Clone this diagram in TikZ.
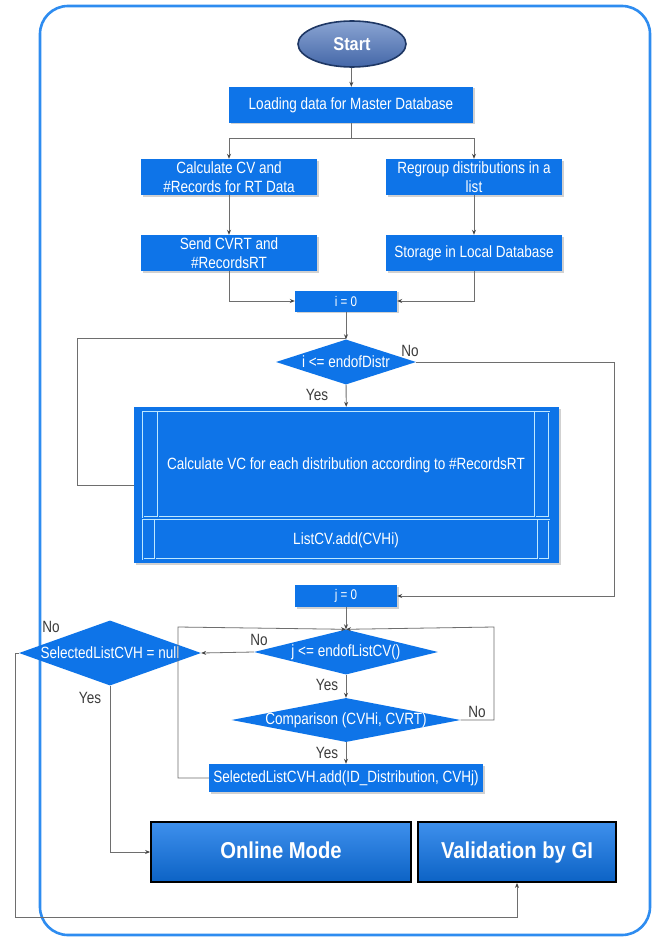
\documentclass[tikz,border=0pt]{standalone}
\usepackage{fontspec}
\setmainfont{Liberation Sans}
\newfontfamily\boxfont{Liberation Sans}[FakeStretch=0.83]
\newfontfamily\btnfont{Liberation Sans}[FakeStretch=0.88]
\usetikzlibrary{shapes.geometric,arrows.meta,calc,shadows}
\definecolor{boxblue}{RGB}{14,116,232}
\definecolor{framebl}{RGB}{46,140,240}
\definecolor{wire}{RGB}{110,110,110}
\definecolor{tipcol}{RGB}{70,70,70}
\definecolor{lbltext}{RGB}{60,60,60}
\definecolor{subwhite}{RGB}{190,232,255}
\definecolor{starttop}{RGB}{138,164,210}
\definecolor{startbot}{RGB}{68,103,168}
\definecolor{startrim}{RGB}{30,55,100}
\tikzset{
  txtfont/.style={font=\boxfont\fontsize{16.3}{18.5}\selectfont},
  box/.style={draw=none, fill=boxblue, text=white, inner sep=1pt, align=center, txtfont,
    drop shadow={shadow xshift=1.5pt, shadow yshift=-1.5pt, opacity=0.18, fill=black}},
  decision/.style={diamond, fill=boxblue, text=white, inner sep=0pt, txtfont},
  bigbtn/.style={draw=black, line width=1.8pt, top color=boxblue!80!white, bottom color=boxblue!85!black,
    text=white, font=\btnfont\bfseries\fontsize{23}{25}\selectfont, text height=16pt, text depth=3pt},
  startnode/.style={ellipse, draw=startrim, line width=1.6pt, top color=starttop,
    bottom color=startbot, text=white, font=\btnfont\bfseries\fontsize{18.5}{20}\selectfont,
    minimum width=108pt, minimum height=46pt, inner sep=0pt},
  conn/.style={draw=wire, line width=0.8pt, -{Stealth[length=5pt,width=4pt,color=tipcol]}},
  wireonly/.style={draw=wire, line width=0.8pt},
  lbl/.style={text=lbltext, inner sep=0pt, txtfont},
  subline/.style={draw=subwhite, line width=0.7pt, double=boxblue, double distance=0.6pt},
  framebox/.style={draw=framebl, line width=2.6pt, rounded corners=28pt}
}
\begin{document}
\begin{tikzpicture}[x=1pt,y=-1pt]
\useasboundingbox (0,0) rectangle (656,939);
\fill[white] (0,0) rectangle (656,939);

% outer frame
\draw[framebox] (40,6) rectangle (650,935);

% top part
\node[startnode] (start) at (352,44) {Start};
\node[box, minimum width=244pt, minimum height=36pt] (load) at (351,105) {Loading data for Master Database};
\node[box, minimum width=176pt, minimum height=36pt] (calc) at (229,177) {Calculate CV and\\\#Records for RT Data};
\node[box, minimum width=176pt, minimum height=36pt] (regroup) at (474,177) {Regroup distributions in a\\list};
\node[box, minimum width=176pt, minimum height=36pt] (send) at (229,253) {Send CVRT and\\\#RecordsRT};
\node[box, minimum width=176pt, minimum height=36pt] (storage) at (474,253) {Storage in Local Database};
\node[box, minimum width=102pt, minimum height=21pt, font=\boxfont\fontsize{14}{15}\selectfont] (i0) at (346,301) {i = 0};

% first loop
\node[decision, minimum width=140pt, minimum height=45pt] (d1) at (346,362) {\makebox[0pt]{i <= endofDistr}};
\node[box, minimum width=425pt, minimum height=156pt] (big) at (346.5,485) {};
\draw[subline] (143,412) rectangle (549,517);
\draw[subline] (158,412) -- (158,517);
\draw[subline] (535,412) -- (535,517);
\draw[subline] (143,520) rectangle (549,559);
\draw[subline] (155,520) -- (155,559);
\draw[subline] (538,520) -- (538,559);
\node[lbl, text=white] (calcvc) at (346,465) {Calculate VC for each distribution according to \#RecordsRT};
\node[lbl, text=white] (listcv) at (346,540) {ListCV.add(CVHi)};

\node[box, minimum width=102pt, minimum height=22pt, font=\boxfont\fontsize{14}{15}\selectfont] (j0) at (346,596) {j = 0};

% second loop
\node[decision, minimum width=184pt, minimum height=45pt] (d2) at (346,652) {\makebox[0pt]{j <= endofListCV()}};
\node[decision, minimum width=229pt, minimum height=44pt] (d3) at (346,720) {\makebox[0pt]{Comparison (CVHi, CVRT)}};
\node[box, minimum width=274pt, minimum height=28pt] (sel) at (346,778) {SelectedListCVH.add(ID\_Distribution, CVHj)};
\node[decision, minimum width=182pt, minimum height=65pt] (null) at (110,653) {\makebox[0pt]{SelectedListCVH = null}};

% final blocks
\node[bigbtn, minimum width=260pt, minimum height=60pt] (online) at (281,852) {Online Mode};
\node[bigbtn, minimum width=198pt, minimum height=60pt] (valid) at (517,852) {Validation by GI};

% connectors
\draw[conn] (start) -- (load);
\draw[conn] (load.south) -- ++(0,15) -| (calc.north);
\draw[conn] (load.south) -- ++(0,15) -| (regroup.north);
\draw[conn] (calc) -- (send);
\draw[conn] (regroup) -- (storage);
\draw[conn] (send.south) |- (i0.west);
\draw[conn] (storage.south) |- (i0.east);
\draw[conn] (i0) -- (d1);

\coordinate (m1) at (346,338);
\draw[wireonly] (big.west) -- ++(-56,0) |- (m1);
\draw[conn] (d1) -- (big);
\draw[conn] (d1.east) -- ++(198,0) |- (j0.east);
\draw[conn] (j0) -- (d2);

\coordinate (rtop) at (494,627);
\coordinate (ltop) at (178,627);
\draw[conn] (d2.west) -- (null.east);
\draw[conn] (d2) -- (d3);
\draw[conn] (d3) -- (sel);
\draw[conn] (d3.east) -| (rtop) -- (d2.north);
\draw[conn] (sel.west) -| (ltop) -- (d2.north);

\coordinate (lowc) at (15,917);
\draw[conn] (null.south) |- (online.west);
\draw[conn] (null.west) -| (lowc) -| (valid.south);

% branch labels
\node[lbl] (no1) at (410,351) {No};
\node[lbl] (yes1) at (317,395) {Yes};
\node[lbl] (no2) at (259,640) {No};
\node[lbl] (yes2) at (327,685) {Yes};
\node[lbl] (no3) at (477,712) {No};
\node[lbl] (yes3) at (327,753) {Yes};
\node[lbl] (no4) at (51,627) {No};
\node[lbl] (yes4) at (90,698) {Yes};
\end{tikzpicture}
\end{document}
